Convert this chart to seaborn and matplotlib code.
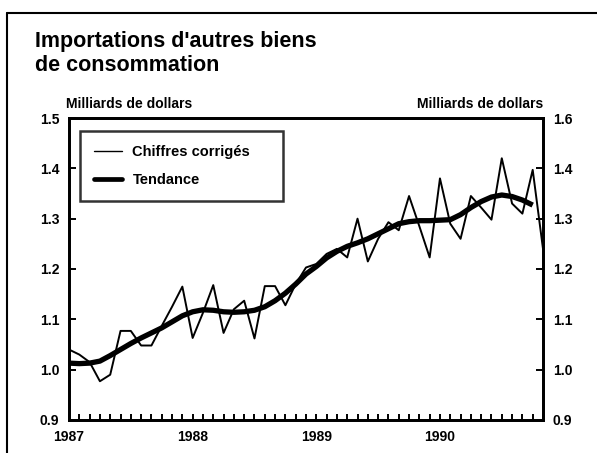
import numpy as np
import pandas as pd
import matplotlib
matplotlib.use("Agg")
import matplotlib.pyplot as plt
from matplotlib.lines import Line2D
from matplotlib.ticker import MultipleLocator
import seaborn as sns

# ---- data (monthly, month 0 = Jan 1987) ----
adjusted = [1.04, 1.03, 1.015, 0.977, 0.99, 1.077, 1.077, 1.048, 1.048, 1.087,
            1.125, 1.165, 1.063, 1.113, 1.168, 1.073, 1.12, 1.137, 1.062, 1.166,
            1.166, 1.128, 1.17, 1.203, 1.21, 1.23, 1.24, 1.223, 1.30, 1.215,
            1.26, 1.293, 1.277, 1.345, 1.285, 1.223, 1.38, 1.29, 1.26, 1.345,
            1.322, 1.298, 1.42, 1.33, 1.31, 1.397, 1.24]
trend = [1.013, 1.012, 1.013, 1.017, 1.028, 1.04, 1.052, 1.063, 1.073, 1.083,
         1.095, 1.107, 1.115, 1.119, 1.118, 1.115, 1.114, 1.115, 1.118, 1.125,
         1.137, 1.152, 1.17, 1.19, 1.205, 1.222, 1.235, 1.245, 1.252, 1.26,
         1.27, 1.28, 1.29, 1.294, 1.296, 1.296, 1.297, 1.298, 1.308, 1.322,
         1.334, 1.343, 1.347, 1.344, 1.337, 1.327]
year_labels = ["1987", "1988", "1989", "1990"]
left_ticks = [0.9, 1.0, 1.1, 1.2, 1.3, 1.4, 1.5]
left_tick_labels = ["0.9", "1.0", "1.1", "1.2", "1.3", "1.4", "1.5"]
right_tick_labels = ["0.9", "1.0", "1.1", "1.2", "1.3", "1.4", "1.6"]
title = "Importations d'autres biens\nde consommation"
unit = "Milliards de dollars"
legend_labels = ["Chiffres corrigés", "Tendance"]

df_adj = pd.DataFrame({"month": np.arange(len(adjusted)), "value": adjusted})
df_tr = pd.DataFrame({"month": np.arange(len(trend)), "value": trend})

sns.set_style("ticks")
plt.rcParams["font.family"] = ["Liberation Sans", "DejaVu Sans"]
plt.rcParams["font.weight"] = "bold"
for k in ["text.color", "axes.labelcolor", "xtick.color", "ytick.color",
          "axes.edgecolor"]:
    plt.rcParams[k] = "black"

fig = plt.figure(figsize=(5.97, 4.53), dpi=100)
ax = fig.add_axes([69/597, 1 - 420/453, (543-69)/597, (420-118)/453])

sns.lineplot(data=df_adj, x="month", y="value", ax=ax, color="black", lw=1.4)
sns.lineplot(data=df_tr, x="month", y="value", ax=ax, color="black", lw=3.8,
             solid_capstyle="butt")

ax.set_xlim(0, 46)
ax.set_ylim(0.9, 1.5)
ax.set_xlabel("")
ax.set_ylabel("")
ax.set_xticks([0, 12, 24, 36])
ax.set_xticklabels(year_labels, fontsize=10, fontweight="bold")
ax.xaxis.set_minor_locator(MultipleLocator(1))
ax.set_yticks(left_ticks)
ax.set_yticklabels(left_tick_labels, fontsize=10, fontweight="bold")
ax.tick_params(axis="x", which="both", direction="in", length=4, width=1.4, pad=7)
ax.tick_params(axis="y", direction="in", length=5, width=1.4, pad=7)
for s in ax.spines.values():
    s.set_linewidth(2.0)
    s.set_color("black")

ax2 = ax.twinx()
ax2.set_ylim(0.9, 1.5)
ax2.set_yticks(left_ticks)
ax2.set_yticklabels(right_tick_labels, fontsize=10, fontweight="bold")
ax2.tick_params(axis="y", direction="in", length=5, width=1.4, pad=7)
for s in ax2.spines.values():
    s.set_linewidth(2.0)
    s.set_color("black")

# legend
handles = [Line2D([], [], color="black", lw=1.0),
           Line2D([], [], color="black", lw=3.4)]
x0 = (80 - 69) / 474
x1 = (283 - 69) / 474
y1 = (420 - 131) / 302
y0 = (420 - 199) / 302
leg = ax.legend(handles, legend_labels, loc="upper left",
                bbox_to_anchor=(x0, y0, x1 - x0, y1 - y0), mode="expand",
                frameon=True, fancybox=False, edgecolor="black",
                borderpad=0.95, labelspacing=0.95, handlelength=1.9,
                handletextpad=0.75, borderaxespad=0,
                prop={"size": 10.5, "weight": "bold"})
leg.get_frame().set_linewidth(1.8)

# texts
fig.text(35/597, 1 - 31/453, title, fontsize=15.5, fontweight="bold",
         va="top", ha="left", linespacing=1.2)
fig.text(66/597, 1 - 108/453, unit, fontsize=10, fontweight="bold",
         ha="left", va="baseline")
fig.text(543/597, 1 - 108/453, unit, fontsize=10, fontweight="bold",
         ha="right", va="baseline")

# outer frame (top and left)
fig.add_artist(Line2D([7/597, 1.0], [1 - 13/453, 1 - 13/453],
                      transform=fig.transFigure, color="black", lw=1.5))
fig.add_artist(Line2D([7/597, 7/597], [0, 1 - 13/453],
                      transform=fig.transFigure, color="black", lw=1.5))

fig.savefig("out.png", dpi=100)
